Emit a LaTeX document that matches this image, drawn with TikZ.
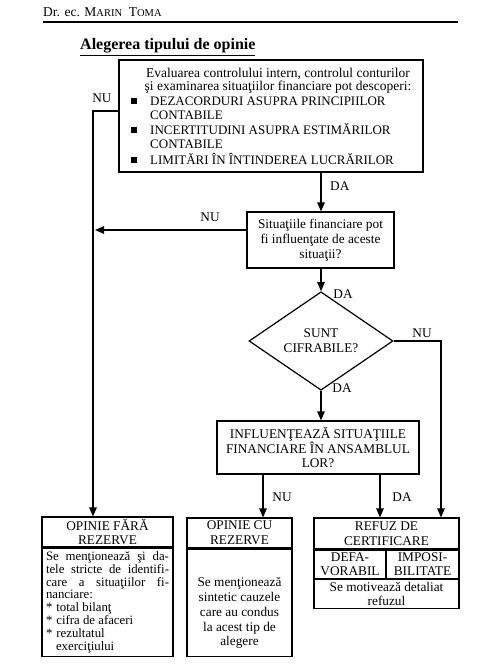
\documentclass[tikz,border=0pt]{standalone}
\usepackage{fontspec}
\setmainfont{Liberation Serif}
\usetikzlibrary{shapes.geometric, positioning, arrows.meta, calc}

\begin{document}
\begin{tikzpicture}[
  x=1pt, y=-1pt,
  every node/.style={font=\fontsize{13.3}{14.8}\selectfont, inner sep=0pt},
  box/.style={draw=black, line width=1.2pt, align=center},
  flow/.style={line width=1.2pt, -{Triangle[length=9pt,width=7.5pt]}},
  bulletbox/.style={anchor=north west, align=left}
]
  \useasboundingbox (0,0) rectangle (484,668);

  \node[anchor=base west, font=\fontsize{13.5}{16}\selectfont] (author) at (43,17)
    {Dr. ec. M{\fontsize{10.5}{12}\selectfont ARIN}\ \ T{\fontsize{10.5}{12}\selectfont OMA}};
  \draw[line width=1.2pt] (43,22) -- (458,22);
  \node[anchor=base west, font=\bfseries\fontsize{16}{18}\selectfont] (title) at (80,50)
    {\underline{Alegerea tipului de opinie}};

  \node[box, minimum width=304pt, minimum height=112pt] (eval) at (271,116) {};
  \node[align=center, font=\fontsize{13.5}{13.5}\selectfont] (intro) at (278,81)
    {Evaluarea controlului intern, controlul conturilor\\
     şi examinarea situaţiilor financiare pot descoperi:};
  \node[bulletbox, font=\fontsize{13}{14.2}\selectfont] (issues) at (131,95) {%
    \begin{tabular}{@{}l@{\hspace{13pt}}l@{}}
      \raisebox{1.2pt}{\rule{6pt}{6pt}} & DEZACORDURI ASUPRA PRINCIPIILOR\\
       & CONTABILE\\
      \raisebox{1.2pt}{\rule{6pt}{6pt}} & INCERTITUDINI ASUPRA ESTIMĂRILOR\\
       & CONTABILE\\
      \raisebox{1.2pt}{\rule{6pt}{6pt}} & LIMITĂRI ÎN ÎNTINDEREA LUCRĂRILOR
    \end{tabular}};

  \node[box, minimum width=147pt, minimum height=56pt] (impact) at (320.5,240)
    {Situaţiile financiare pot\\ fi influenţate de aceste\\ situaţii?};
  \node[draw, diamond, line width=1.2pt, minimum width=144pt, minimum height=72pt, align=center] (cifr) at (321,341)
    {SUNT\\ CIFRABILE?};
  \node[box, minimum width=202pt, minimum height=53pt] (ansamblu) at (318,447.5)
    {INFLUENŢEAZĂ SITUAŢIILE\\ FINANCIARE ÎN ANSAMBLUL\\ LOR?};

  \node[box, minimum width=131pt, minimum height=30pt] (faraHead) at (107.5,532)
    {OPINIE FĂRĂ\\ REZERVE};
  \node[box, below=0pt of faraHead, minimum width=131pt, minimum height=108pt, text width=123pt, align=justify,
        font=\fontsize{12.8}{12.8}\selectfont] (faraBody)
    {Se menţionează şi da-\linebreak tele stricte de identifi-\linebreak care a situaţiilor fi-\linebreak nanciare:\newline
     *\hspace{4pt}total bilanţ\newline *\hspace{4pt}cifra de afaceri\newline *\hspace{4pt}rezultatul\newline
     \hspace*{10pt}exerciţiului};

  \node[box, minimum width=105pt, minimum height=30pt] (cuHead) at (239.5,533)
    {OPINIE CU\\ REZERVE};
  \node[box, below=0pt of cuHead, minimum width=105pt, minimum height=107pt] (cuBody)
    {\rule{0pt}{30pt}Se menţionează\\ sintetic cauzele\\ care au condus\\ la acest tip de\\ alegere};

  \node[box, minimum width=145pt, minimum height=31pt] (refuzHead) at (386.5,533.5)
    {REFUZ DE\\ CERTIFICARE};
  \node[box, minimum width=72pt, minimum height=28pt, anchor=north west] (defav) at (refuzHead.south west)
    {DEFA-\\ VORABIL};
  \node[box, minimum width=73pt, minimum height=28pt, anchor=north east] (imposib) at (refuzHead.south east)
    {IMPOSI-\\ BILITATE};
  \node[box, minimum width=145pt, minimum height=29pt, anchor=north west] (motiv) at (defav.south west)
    {Se motivează detaliat\\ refuzul};

  \coordinate (nuLane) at (93,111);
  \coordinate (nuTwo) at (0,230);
  \coordinate (rightLane) at (441,0);
  \coordinate (nuCol) at (263,0);
  \coordinate (daCol) at (380,0);

  \draw[flow] (eval.west |- nuLane) -- (nuLane) -- (nuLane |- faraHead.north);
  \node (nu1) at (102,98) {NU};
  \draw[flow] (eval.south -| cifr.north) -- (cifr.north |- impact.north);
  \node[anchor=west] (da1) at (330,186) {DA};
  \draw[flow, shorten >=2pt] (impact.west |- nuTwo) -- (nuLane |- nuTwo);
  \node (nu2) at (210,217) {NU};
  \draw[flow] (cifr.north |- impact.south) -- (cifr.north);
  \node (da2) at (343,294) {DA};
  \draw[flow] (cifr.east) -- (cifr.east -| rightLane) -- (rightLane |- refuzHead.north);
  \node (nu3) at (422,333) {NU};
  \draw[flow] (cifr.south) -- (cifr.south |- ansamblu.north);
  \node (da3) at (342,388) {DA};
  \draw[flow] (ansamblu.south -| nuCol) -- (nuCol |- cuHead.north);
  \node (nu4) at (282,497) {NU};
  \draw[flow] (ansamblu.south -| daCol) -- (daCol |- refuzHead.north);
  \node (da4) at (402,497) {DA};
\end{tikzpicture}
\end{document}
